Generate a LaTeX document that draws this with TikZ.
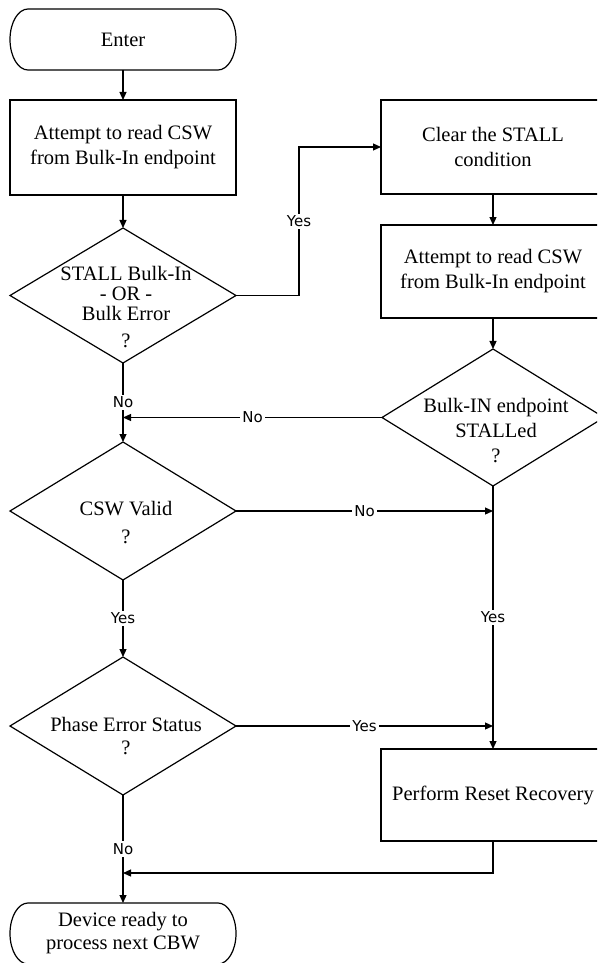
\documentclass[tikz,border=0pt]{standalone}
\usepackage{fontspec}
\setmainfont{Liberation Serif}
\newfontfamily\lblfont{DejaVu Sans}
\usetikzlibrary{arrows.meta,shapes.geometric}
\newcommand\termoutline[1]{%
  \draw ([xshift=18pt]#1.north west) -- ([xshift=-18pt]#1.north east)
    arc[start angle=90,end angle=-90,x radius=18pt,y radius=30.5pt]
    -- ([xshift=18pt]#1.south west)
    arc[start angle=270,end angle=90,x radius=18pt,y radius=30.5pt] -- cycle;}
\begin{document}
\begin{tikzpicture}[x=1pt,y=1pt,
  line width=1.2pt,
  every node/.style={inner sep=0pt, outer sep=0pt},
  box/.style={draw, minimum width=224pt},
  dia/.style={draw, diamond, minimum width=226pt, minimum height=138pt},
  term/.style={minimum width=226pt, minimum height=61pt},
  txt/.style={font=\fontsize{20.5}{25}\selectfont, align=center},
  arr/.style={-{Triangle[length=8pt,width=7pt]}},
  lbl/.style={font=\lblfont\fontsize{15}{18}\selectfont, fill=white, inner sep=2pt}
]
\useasboundingbox (0,0) rectangle (597,-963);
\clip (0,0) rectangle (597,-963);

% left column
\node[term, txt] (enter) at (123,-39.5) {Enter};
\termoutline{enter}
\node[box, txt, minimum width=226pt, minimum height=95pt] (read1) at (123,-147.5)
  {Attempt to read CSW\\from Bulk-In endpoint};
\node[dia, minimum height=135pt] (d1) at (123,-295.5) {};
\node[txt, font=\fontsize{20.5}{20}\selectfont] at (126,-307) {STALL Bulk-In\\- OR -\\Bulk Error\\[7pt]?};
\node[dia] (d3) at (123,-511) {};
\node[txt, font=\fontsize{20.5}{28}\selectfont] at (126,-523) {CSW Valid\\?};
\node[dia] (d4) at (123,-726) {};
\node[txt, font=\fontsize{20.5}{23}\selectfont] at (126,-736.5) {Phase Error Status\\?};
\node[term, txt, font=\fontsize{20.5}{23}\selectfont] (device) at (123,-933.5)
  {Device ready to\\process next CBW};
\termoutline{device}

% right column
\node[box, txt, minimum height=94pt] (clear) at (493,-147) {Clear the STALL\\condition};
\node[box, txt, minimum height=93pt] (read2) at (493,-271.5)
  {Attempt to read CSW\\from Bulk-In endpoint};
\node[dia, minimum width=222pt, minimum height=137pt] (d2) at (493,-417.5) {};
\node[txt] at (496,-431) {Bulk-IN endpoint\\STALLed\\?};
\node[box, txt, minimum height=92pt] (perform) at (493,-795) {Perform Reset Recovery};

% junctions
\coordinate (j1) at (d2.west -| d1.south);
\coordinate (j2) at (d3.east -| d2.south);
\coordinate (j3) at (d4.east -| d2.south);
\coordinate (j4) at (123,-873);

% connectors
\draw[arr] (enter) -- (read1);
\draw[arr] (read1) -- (d1);
\draw[arr] (d1.east) -- ++(63,0) |- (clear.west) node[lbl, pos=0.25] {Yes};
\draw[arr] (clear) -- (read2);
\draw[arr] (read2) -- (d2);
\draw[arr] (d1.south) -- node[lbl] {No} (d3.north);
\draw[arr] (d2.west) -- node[lbl] {No} (j1);
\draw[arr] (d3.east) -- node[lbl] {No} (j2);
\draw[arr] (d2.south) -- node[lbl] {Yes} (perform.north);
\draw[arr] (d3.south) -- node[lbl] {Yes} (d4.north);
\draw[arr] (d4.east) -- node[lbl] {Yes} (j3);
\draw[arr] (d4.south) -- node[lbl] {No} (device.north);
\draw[arr] (perform.south) |- (j4);
\end{tikzpicture}
\end{document}
